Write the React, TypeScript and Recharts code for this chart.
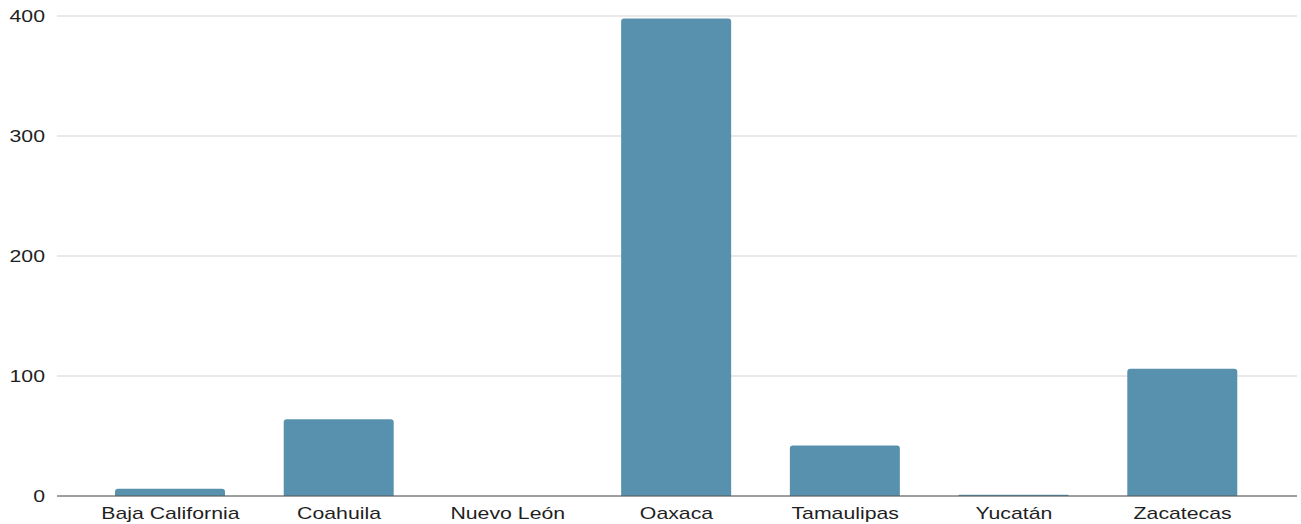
import React from "react";
import { BarChart, Bar, XAxis, YAxis, CartesianGrid } from "recharts";

const categories = ["Baja California", "Coahuila", "Nuevo León", "Oaxaca", "Tamaulipas", "Yucatán", "Zacatecas"];
const values = [6, 64, 0, 398, 42, 1, 106];
const yTicks = [0, 100, 200, 300, 400];

const data = categories.map((name, i) => ({ name, value: values[i] }));

const FONT = "'Liberation Sans', Arial, sans-serif";
const SX = 1.33;
const Y_LABEL_RIGHT = 45;

const XTick = (props: any) => {
  const { x, y, payload } = props;
  return (
    <g transform={`translate(${x},${y}) scale(${SX},1)`}>
      <text x={0} y={0} dy={15} textAnchor="middle" fontFamily={FONT} fontSize={16} fill="#1f1f1f">
        {payload.value}
      </text>
    </g>
  );
};

const YTick = (props: any) => {
  const { y, payload } = props;
  return (
    <g transform={`translate(${Y_LABEL_RIGHT},${Number(y)}) scale(${SX},1)`}>
      <text x={0} y={0} dy="0.35em" textAnchor="end" fontFamily={FONT} fontSize={16} fill="#1f1f1f">
        {payload.value}
      </text>
    </g>
  );
};

export default function App() {
  return (
    <div style={{ position: "absolute", left: 0, top: 0, width: 1301, height: 524, background: "#fff" }}>
      <BarChart width={1301} height={524} data={data} margin={{ top: 16, right: 4, bottom: 0, left: 0 }}>
        <CartesianGrid horizontal={true} vertical={false} stroke="#d3d3d3" />
        <XAxis
          dataKey="name"
          height={28}
          padding={{ left: 29, right: 30 }}
          axisLine={{ stroke: "#555" }}
          tickLine={false}
          tick={<XTick />}
          interval={0}
        />
        <YAxis
          width={57}
          domain={[0, 400]}
          ticks={yTicks}
          axisLine={false}
          tickLine={false}
          tick={<YTick />}
        />
        <Bar dataKey="value" fill="#5891AE" barSize={110} radius={[3, 3, 0, 0]} isAnimationActive={false} />
      </BarChart>
    </div>
  );
}
